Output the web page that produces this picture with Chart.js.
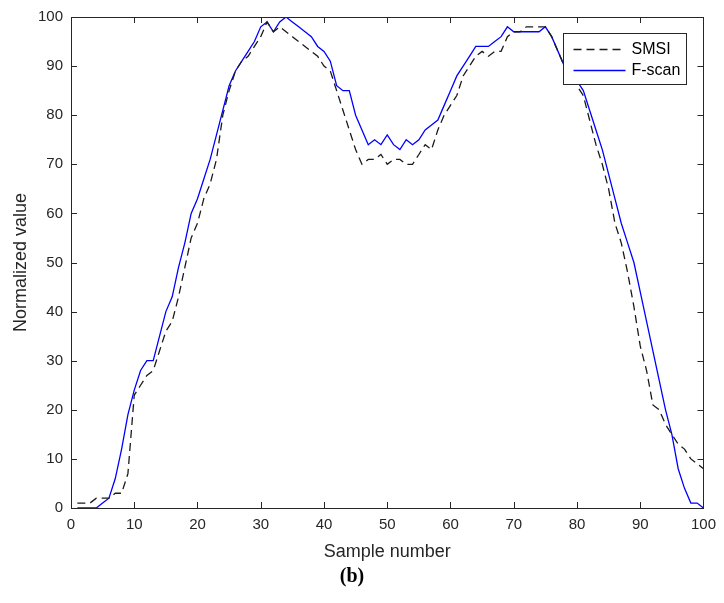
<!DOCTYPE html>
<html>
<head>
<meta charset="utf-8">
<title>SMSI vs F-scan</title>
<script src="https://cdn.jsdelivr.net/npm/chart.js@4"></script>
<style>
html,body{margin:0;padding:0;background:#fff;}
canvas{display:block;}
</style>
</head>
<body>
<canvas id="chart" width="724" height="603"></canvas>
<script>
// sample numbers (x)
const samples = [1,2,3,4,5,6,7,8,9,10,11,12,13,14,15,16,17,18,19,20,
21,22,23,24,25,26,27,28,29,30,31,32,33,34,35,36,37,38,39,40,
41,42,43,44,45,46,47,48,49,50,51,52,53,54,55,56,57,58,59,60,
61,62,63,64,65,66,67,68,69,70,71,72,73,74,75,76,77,78,79,80,
81,82,83,84,85,86,87,88,89,90,91,92,93,94,95,96,97,98,99,100];

const smsi = [1,1,1,2,2,2,3,3,7,23,25,27,28,32,36,38,43,49,55,58,
63,66,71,80,85,89,91,92,94,96,99,97,98,97,96,95,94,93,92,90,
89,85,81,77,73,70,71,71,72,70,71,71,70,70,72,74,73,77,80,82,
84,88,90,92,93,92,93,93,96,97,97,98,98,98,98,96,93,90,88,86,
84,79,74,70,65,58,54,48,41,33,28,21,20,17,15,13,12,10,9,8];

const fscan = [0,0,0,0,1,2,6,12,19,24,28,30,30,35,40,43,49,54,60,63,
67,71,76,81,86,89,91,93,95,98,99,97,99,100,99,98,97,96,94,93,
91,86,85,85,80,77,74,75,74,76,74,73,75,74,75,77,78,79,82,85,
88,90,92,94,94,94,95,96,98,97,97,97,97,97,98,96,93,90,88,87,
85,81,77,73,68,63,58,54,50,44,38,32,26,20,15,8,4,1,1,0];

const xTicks = [0,10,20,30,40,50,60,70,80,90,100];
const yTicks = [0,10,20,30,40,50,60,70,80,90,100];

const axisColor = "#262626";
const tickFont = {family:"'Liberation Sans', Arial, sans-serif", size:15};

function pts(vals){
return samples.map((s,i)=>({x:s,y:vals[i]}));
}

// MATLAB-like box, inward ticks and legend
const boxPlugin = {
id:"box",
afterDatasetsDraw(chart){
const ctx = chart.ctx;
const a = chart.chartArea;
const xs = chart.scales.x, ys = chart.scales.y;
ctx.save();
ctx.strokeStyle = axisColor;
ctx.lineWidth = 1;
ctx.strokeRect(Math.round(a.left)+0.5, Math.round(a.top)+0.5,
Math.round(a.right-a.left), Math.round(a.bottom-a.top));
const tl = 6;
ctx.beginPath();
xTicks.forEach(v=>{
const px = Math.round(xs.getPixelForValue(v))+0.5;
ctx.moveTo(px,a.bottom); ctx.lineTo(px,a.bottom-tl);
ctx.moveTo(px,a.top); ctx.lineTo(px,a.top+tl);
});
yTicks.forEach(v=>{
const py = Math.round(ys.getPixelForValue(v))+0.5;
ctx.moveTo(a.left,py); ctx.lineTo(a.left+tl,py);
ctx.moveTo(a.right,py); ctx.lineTo(a.right-tl,py);
});
ctx.stroke();

// legend
const bw = 123, bh = 51;
const bx = Math.round(a.right-17-bw)+0.5, by = Math.round(a.top+16)+0.5;
ctx.fillStyle = "#fff";
ctx.fillRect(bx,by,bw,bh);
ctx.strokeRect(bx,by,bw,bh);
ctx.font = "16px 'Liberation Sans', Arial, sans-serif";
ctx.textBaseline = "middle";
chart.data.datasets.forEach((ds,i)=>{
const cy = by + 16 + i*21;
ctx.strokeStyle = ds.borderColor;
ctx.lineWidth = ds.borderWidth;
ctx.setLineDash(ds.borderDash || []);
ctx.beginPath();
ctx.moveTo(bx+10,cy); ctx.lineTo(bx+62,cy);
ctx.stroke();
ctx.setLineDash([]);
ctx.fillStyle = "#000";
ctx.fillText(ds.label,bx+68,cy);
});
ctx.restore();
}
};

new Chart(document.getElementById("chart"),{
type:"line",
data:{
datasets:[{
label:"SMSI",
data:pts(smsi),
borderColor:"#1a1a1a",
borderWidth:1.3,
borderDash:[8,5],
pointRadius:0,
tension:0
},{
label:"F-scan",
data:pts(fscan),
borderColor:"#0000ff",
borderWidth:1.3,
pointRadius:0,
tension:0
}]
},
options:{
responsive:false,
animation:false,
layout:{padding:{left:0,right:20,top:13,bottom:0}},
plugins:{
legend:{display:false},
tooltip:{enabled:false},
title:{
display:true,
position:"bottom",
text:"(b)",
color:"#000",
font:{family:"'Liberation Serif', 'DejaVu Serif', serif",size:20,weight:"bold",lineHeight:"24px"},
padding:{top:0,bottom:14}
}
},
scales:{
x:{
type:"linear",
min:0,max:100,
afterBuildTicks(s){ s.ticks = xTicks.map(v=>({value:v})); },
afterFit(s){ s.height = 57; },
grid:{display:false,drawTicks:false},
border:{display:false},
ticks:{color:axisColor,font:tickFont,padding:8,maxRotation:0},
title:{display:true,text:"Sample number",color:axisColor,
font:{family:"'Liberation Sans', Arial, sans-serif",size:18,lineHeight:1.2},
padding:{top:0,bottom:2}}
},
y:{
min:0,max:100,
afterBuildTicks(s){ s.ticks = yTicks.map(v=>({value:v})); },
afterFit(s){ s.width = 71; },
grid:{display:false,drawTicks:false},
border:{display:false},
ticks:{color:axisColor,font:tickFont,padding:8},
title:{display:true,text:"Normalized value",color:axisColor,
font:{family:"'Liberation Sans', Arial, sans-serif",size:18,lineHeight:1.2},
padding:{top:10,bottom:0}}
}
}
},
plugins:[boxPlugin]
});
</script>
</body>
</html>
